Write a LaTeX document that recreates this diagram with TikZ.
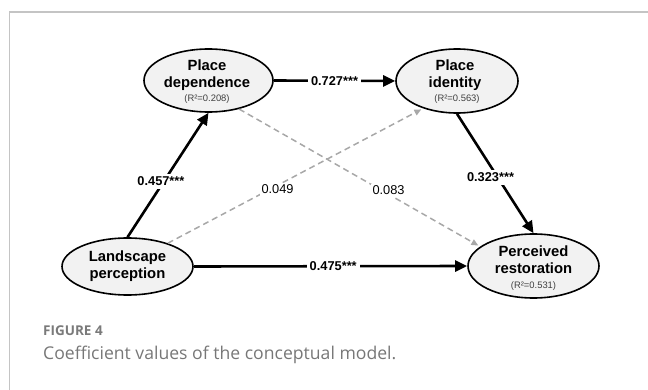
\documentclass[tikz,border=0pt]{standalone}
\usepackage{fontspec}
\setmainfont{Liberation Sans}
\newfontfamily\capfont{Open Sans}
\usetikzlibrary{arrows.meta,shapes.geometric}
\definecolor{framegray}{HTML}{C4C4C4}
\definecolor{dashgray}{HTML}{A8A8A8}
\definecolor{nodefill}{HTML}{F2F2F2}
\definecolor{rgray}{HTML}{404040}
\definecolor{capgray}{HTML}{777777}
\definecolor{figgray}{HTML}{7A7A7A}

\begin{document}
\begin{tikzpicture}[x=1pt,y=-1pt,
  construct/.style={ellipse, draw=black, line width=1.6pt, fill=nodefill, inner sep=0pt},
  title/.style={align=center, font=\bfseries\fontsize{14.8}{17.5}\selectfont, inner sep=0pt},
  rsq/.style={anchor=base, font=\fontsize{9.4}{11}\selectfont, text=rgray, inner sep=0pt},
  sig/.style={-{Triangle[length=12pt,width=11pt]}, line width=2.6pt},
  ns/.style={-{Triangle[length=7pt,width=6pt]}, line width=1.5pt, draw=dashgray, dash pattern=on 6pt off 4pt, shorten >=2pt},
  coef/.style={fill=white, font=\bfseries\fontsize{12.8}{14}\selectfont, inner sep=3pt},
  coefns/.style={fill=white, font=\fontsize{12.8}{14}\selectfont, text=black, inner sep=2pt},
]
\useasboundingbox (0,0) rectangle (648,390);

% panel frame (open to the right and bottom)
\draw[framegray, line width=1.5pt] (9.5,390) -- (9.5,12) -- (648,12);

% constructs
\node[construct, minimum width=129pt, minimum height=63pt] (pd) at (208.5,80.5) {};
\node[construct, minimum width=122pt, minimum height=64pt] (pi) at (457,81) {};
\node[construct, minimum width=131pt, minimum height=57pt] (lp) at (127.5,266.5) {};
\node[construct, minimum width=131pt, minimum height=64pt] (pr) at (533.5,266) {};

\node[title] (pdt) at (207,75) {Place\\dependence};
\node[title] (pit) at (455,75) {Place\\identity};
\node[title] (lpt) at (127.5,266.2) {Landscape\\perception};
\node[title] (prt) at (533.5,259.5) {Perceived\\restoration};

\node[rsq] (pdr) at (207,101.5) {(R²=0.208)};
\node[rsq] (pir) at (457,101.5) {(R²=0.563)};
\node[rsq] (prr) at (533.5,288) {(R²=0.531)};

% non-significant paths
\draw[ns] (lp.30) -- node[coefns, pos=0.43, yshift=-4pt] (c049) {0.049} (pi.219);
\draw[ns] (pd.317) -- node[coefns, pos=0.62, yshift=4pt] (c083) {0.083} (pr.160);

% significant paths
\draw[sig] (pd.east) -- node[coef, pos=0.5] (c727) {0.727***} (pi.west);
\draw[sig] (lp.east) -- node[coef, pos=0.51] (c475) {0.475***} (pr.west);
\draw[sig] (lp.north) -- node[coef, pos=0.45, xshift=-3pt] (c457) {0.457***} (pd.south);
\draw[sig] (pi.south) -- node[coef, pos=0.53, xshift=-7pt] (c323) {0.323***} (pr.north);

% caption
\node[anchor=base west, font=\capfont\bfseries\fontsize{13.5}{16}\selectfont, text=figgray, inner sep=0pt] (fig) at (43,335.7) {FIGURE 4};
\node[anchor=base west, font=\capfont\fontsize{17.6}{21}\selectfont, text=capgray, inner sep=0pt] (cap) at (43,359.5) {Coefficient values of the conceptual model.};
\end{tikzpicture}
\end{document}
